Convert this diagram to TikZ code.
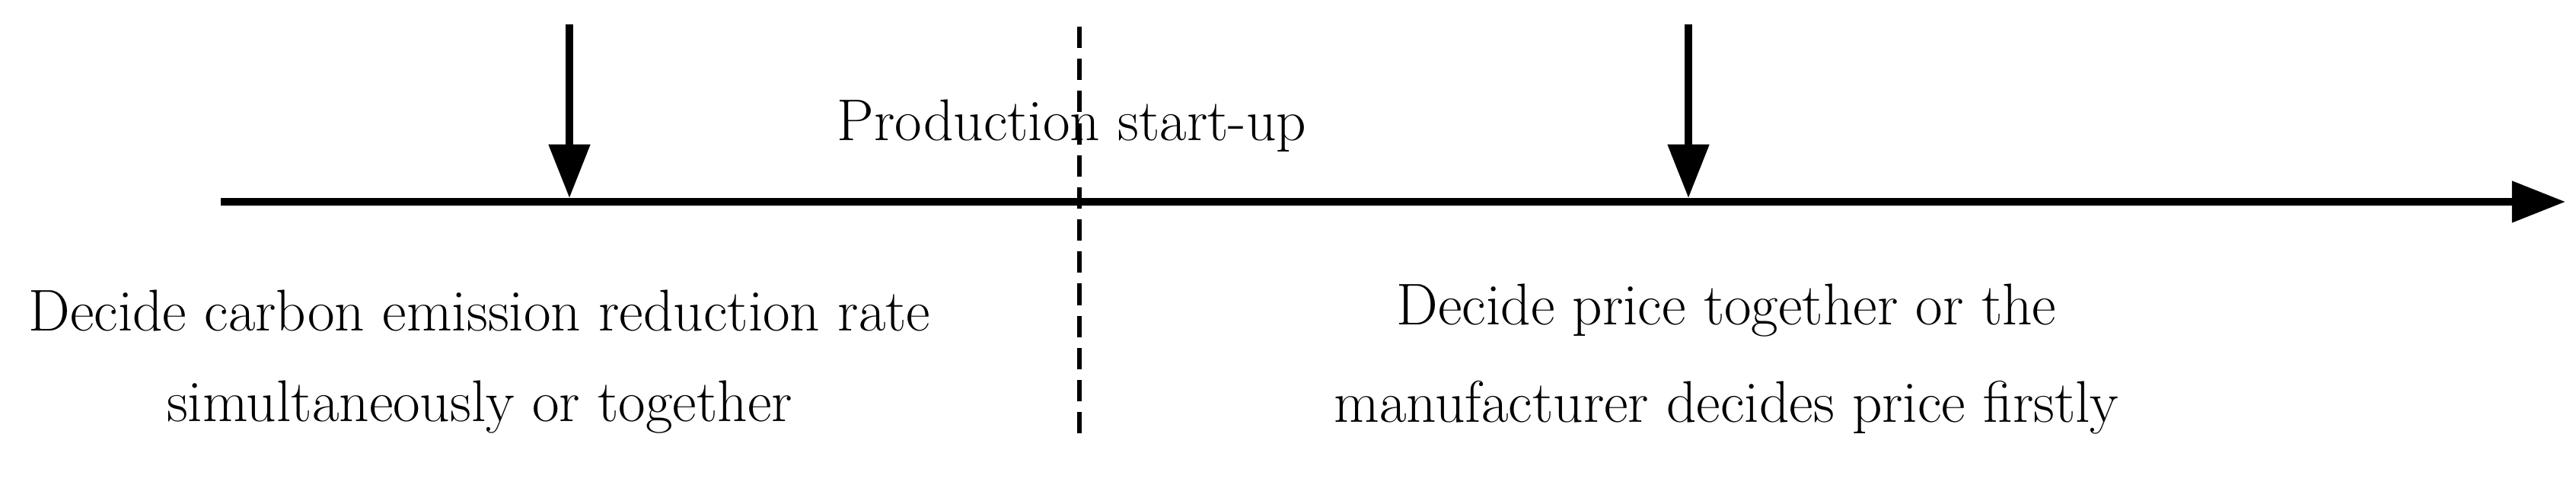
\documentclass[tikz,border=0pt]{standalone}
\usetikzlibrary{arrows.meta}
\begin{document}
\begin{tikzpicture}[
  lbl/.style={font=\fontsize{22}{26}\selectfont, inner sep=0pt},
  thick line/.style={line width=2.6pt},
  tip/.style={-{Triangle[length=20pt,width=15pt]}}]
\useasboundingbox (0,0) rectangle (33.84,6.32);
\coordinate (ls) at (2.9,3.67);
\coordinate (le) at (33.7,3.67);
\draw[thick line,tip] (ls) -- (le);
\coordinate (a1s) at (7.48,6.0); \coordinate (a1e) at (7.48,3.72);
\coordinate (a2s) at (22.18,6.0); \coordinate (a2e) at (22.18,3.72);
\draw[thick line,tip] (a1s) -- (a1e);
\draw[thick line,tip] (a2s) -- (a2e);
\coordinate (ds) at (14.18,5.97); \coordinate (de) at (14.18,0.62);
\draw[line width=1.5pt,dash pattern=on 8pt off 4pt] (ds) -- (de);
\node[lbl] (prod) at (14.08,4.67) {Production start-up};
\node[lbl] (l1) at (6.3,2.24) {Decide carbon emission reduction rate};
\node[lbl] (l2) at (6.3,0.97) {simultaneously or together};
\node[lbl] (r1) at (22.68,2.24) {Decide price together or the};
\node[lbl] (r2) at (22.68,0.97) {manufacturer decides price firstly};
\end{tikzpicture}
\end{document}
